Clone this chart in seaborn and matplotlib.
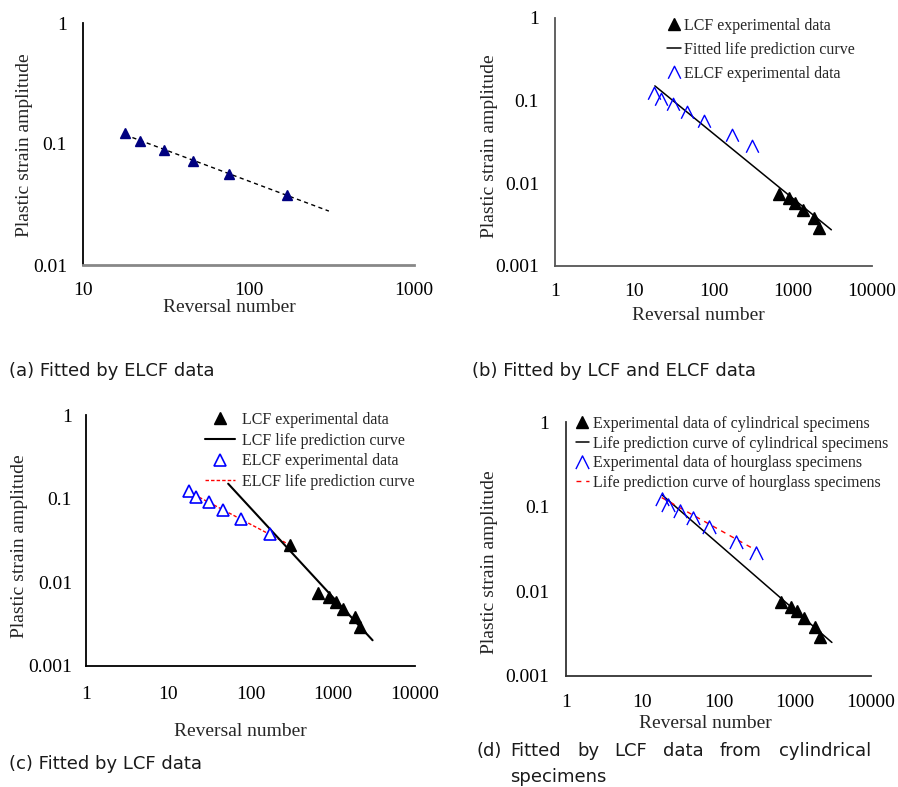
import numpy as np
import matplotlib
matplotlib.use("Agg")
import matplotlib.pyplot as plt
from matplotlib.path import Path
from matplotlib.ticker import NullLocator
import seaborn as sns

# values
elcf_n = [18, 22, 31, 46, 76, 172, 306]
elcf_eps = [0.124, 0.106, 0.090, 0.073, 0.057, 0.038, 0.028]
lcf_n = [667, 891, 1081, 1336, 1857, 2168]
lcf_eps = [0.0075, 0.0066, 0.0058, 0.0048, 0.0038, 0.0029]

# fitted life curves are straight on log-log axes: end points only
fit_a_n, fit_a_eps = [18, 306], [0.119, 0.0279]
fit_b_n, fit_b_eps = [18.2, 3070], [0.151, 0.00274]
fit_c_lcf_n, fit_c_lcf_eps = [53.5, 3050], [0.151, 0.00203]
fit_c_elcf_n, fit_c_elcf_eps = [18, 290], [0.120, 0.0285]
fit_d_cyl_n, fit_d_cyl_eps = [18.3, 3070], [0.137, 0.00249]
fit_d_hg_n, fit_d_hg_eps = [18, 308], [0.128, 0.0307]

xticks_a = [10, 100, 1000]
xticks_bcd = [1, 10, 100, 1000, 10000]
yticks_a = [0.01, 0.1, 1]
yticks_bcd = [0.001, 0.01, 0.1, 1]

W, H = 898, 787

sns.set_theme(style="white")
plt.rcParams["font.family"] = ["Liberation Serif", "DejaVu Serif"]
plt.rcParams["axes.linewidth"] = 1.3

fig = plt.figure(figsize=(W / 100, H / 100), dpi=100)


def px_axes(l, t, r, b):
    return fig.add_axes([l / W, 1 - b / H, (r - l) / W, (b - t) / H])


def fmt(v):
    return f"{v:g}"


def style(ax, xt, yt, spine_col, xpad, ypad, xlab_xy, ylab_xy):
    ax.set_xscale("log")
    ax.set_yscale("log")
    ax.set_xlim(xt[0], xt[-1])
    ax.set_ylim(yt[0], yt[-1])
    ax.set_xticks(xt, [fmt(v) for v in xt])
    ax.set_yticks(yt, [fmt(v) for v in yt])
    ax.xaxis.set_minor_locator(NullLocator())
    ax.yaxis.set_minor_locator(NullLocator())
    sns.despine(ax=ax)
    for s in ("left", "bottom"):
        ax.spines[s].set_color(spine_col)
    ax.tick_params(axis="x", direction="in", length=6, width=1, color=spine_col,
                   pad=xpad, labelsize=14, labelcolor="black")
    ax.tick_params(axis="y", direction="in", length=6, width=1, color=spine_col,
                   pad=ypad, labelsize=14, labelcolor="black")
    ax.set_xlabel("Reversal number", fontsize=14)
    ax.set_ylabel("Plastic strain amplitude", fontsize=14)
    ax.xaxis.set_label_coords(xlab_xy[0] / W, 1 - xlab_xy[1] / H, transform=fig.transFigure)
    ax.yaxis.set_label_coords(ylab_xy[0] / W, 1 - ylab_xy[1] / H, transform=fig.transFigure)
    ax.xaxis.label.set_va("center")
    ax.yaxis.label.set_va("center")


caret = Path([(-1, -1), (0, 1), (1, -1)], [Path.MOVETO, Path.LINETO, Path.LINETO])


def legend(ax, order, x, y, hl, tp, sp):
    handles, labels = ax.get_legend_handles_labels()
    lookup = dict(zip(labels, handles))
    ax.legend([lookup[k] for k in order], order, loc="upper left",
              bbox_to_anchor=(x / W, 1 - y / H), bbox_transform=fig.transFigure,
              frameon=False, fontsize=11.5, borderpad=0, borderaxespad=0,
              handlelength=hl, handletextpad=tp, labelspacing=sp)


# (a) Fitted by ELCF data
ax = px_axes(83, 23, 414, 265)
style(ax, xticks_a, yticks_a, "#333333", 12, 11.5, (229, 308), (25, 145))
ax.spines["bottom"].set_color("#888888")
ax.spines["bottom"].set_linewidth(2)
ax.spines["left"].set_color("black")
sns.lineplot(x=fit_a_n, y=fit_a_eps, ax=ax, color="black", lw=1, ls=(0, (3, 2.5)))
sns.lineplot(x=elcf_n[:6], y=elcf_eps[:6], ax=ax, color="#000080", ls="",
             marker="^", ms=7.5, mec="#000080", mew=1)

# (b) Fitted by LCF and ELCF data
ax = px_axes(555, 18, 872, 266)
style(ax, xticks_bcd, yticks_bcd, "#555555", 12, 11.5, (698, 316), (489, 146))
sns.lineplot(x=fit_b_n, y=fit_b_eps, ax=ax, color="black", lw=1.1,
             label="Fitted life prediction curve")
sns.lineplot(x=elcf_n, y=elcf_eps, ax=ax, color="blue", ls="", marker=caret,
             ms=9, mfc="none", mec="blue", mew=1, label="ELCF experimental data")
sns.lineplot(x=lcf_n, y=lcf_eps, ax=ax, color="black", ls="", marker="^",
             ms=9, mec="black", mew=1, label="LCF experimental data")
legend(ax, ["LCF experimental data", "Fitted life prediction curve",
            "ELCF experimental data"], 667, 18, 0.9, 0.15, 0.5)

# (c) Fitted by LCF data
ax = px_axes(86, 415, 415, 666)
style(ax, xticks_bcd, yticks_bcd, "black", 14.5, 10, (240, 731), (20, 546))
sns.lineplot(x=fit_c_elcf_n, y=fit_c_elcf_eps, ax=ax, color="red", lw=1,
             ls=(0, (2.5, 1.5)), label="ELCF life prediction curve")
sns.lineplot(x=fit_c_lcf_n, y=fit_c_lcf_eps, ax=ax, color="black", lw=1.5,
             label="LCF life prediction curve")
sns.lineplot(x=elcf_n[:6], y=elcf_eps[:6], ax=ax, color="blue", ls="", marker="^",
             ms=8.5, mfc="white", mec="blue", mew=1.2, label="ELCF experimental data")
sns.lineplot(x=elcf_n[6:] + lcf_n, y=elcf_eps[6:] + lcf_eps, ax=ax, color="black",
             ls="", marker="^", ms=9, mec="black", mew=1, label="LCF experimental data")
legend(ax, ["LCF experimental data", "LCF life prediction curve",
            "ELCF experimental data", "ELCF life prediction curve"], 205, 412, 1.9, 0.4, 0.29)

# (d) Fitted by LCF data from cylindrical specimens
ax = px_axes(566, 422, 871, 676)
style(ax, xticks_bcd, yticks_bcd, "#333333", 13, 12, (705, 724), (489, 562))
sns.lineplot(x=fit_d_cyl_n, y=fit_d_cyl_eps, ax=ax, color="black", lw=1.1,
             label="Life prediction curve of cylindrical specimens")
sns.lineplot(x=fit_d_hg_n, y=fit_d_hg_eps, ax=ax, color="red", lw=1,
             ls=(0, (3.5, 3.5)), label="Life prediction curve of hourglass specimens")
sns.lineplot(x=elcf_n, y=elcf_eps, ax=ax, color="blue", ls="", marker=caret,
             ms=9.5, mfc="none", mec="blue", mew=1,
             label="Experimental data of hourglass specimens")
sns.lineplot(x=lcf_n, y=lcf_eps, ax=ax, color="black", ls="", marker="^",
             ms=9, mec="black", mew=1, label="Experimental data of cylindrical specimens")
legend(ax, ["Experimental data of cylindrical specimens",
            "Life prediction curve of cylindrical specimens",
            "Experimental data of hourglass specimens",
            "Life prediction curve of hourglass specimens"], 576, 416, 0.8, 0.25, 0.23)

# captions
cap = dict(fontsize=13, family="DejaVu Sans", va="center", ha="left", color="#1a1a1a")
fig.text(9 / W, 1 - 371 / H, "(a) Fitted by ELCF data", **cap)
fig.text(472 / W, 1 - 371 / H, "(b) Fitted by LCF and ELCF data", **cap)
fig.text(9 / W, 1 - 764 / H, "(c) Fitted by LCF data", **cap)
fig.text(476 / W, 1 - 751 / H, "(d)", **cap)
for word, xp in zip(["Fitted", "by", "LCF", "data", "from", "cylindrical"],
                    [510, 577, 614, 663, 720, 779]):
    fig.text(xp / W, 1 - 751 / H, word, **cap)
fig.text(510 / W, 1 - 777 / H, "specimens", **cap)

fig.savefig("out.png", dpi=100)
